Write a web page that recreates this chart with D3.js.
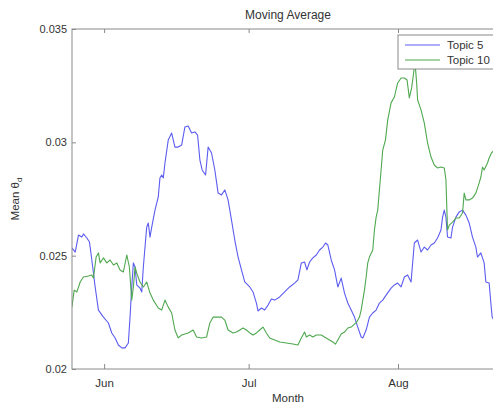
<!DOCTYPE html>
<html><head><meta charset="utf-8">
<script src="https://cdn.jsdelivr.net/npm/d3@7"></script>
<style>
html,body{margin:0;padding:0;background:#fff;}
svg{display:block;font-family:"Liberation Sans",Arial,Helvetica,sans-serif;}
</style></head>
<body><svg id="chart" width="493" height="405"></svg>
<script>
// Days counted from 1 June (fractional), value = mean theta_d
const topic5Days = [-6.69,-6.0,-5.32,-4.62,-4.29,-3.58,-3.04,-2.55,-1.86,-1.18,-0.14,0.89,1.59,2.28,2.96,3.66,4.35,5.03,5.38,5.73,6.07,6.42,6.77,7.45,7.81,8.14,8.49,8.84,9.17,9.52,9.88,10.56,11.24,11.59,11.95,12.28,12.63,13.31,14.02,14.70,15.38,16.09,16.77,17.45,18.16,18.84,19.40,19.88,20.35,21.06,21.59,22.30,22.98,23.66,24.37,25.05,25.73,26.44,27.12,27.81,28.51,29.19,30.23,30.91,31.61,31.95,32.65,33.33,34.02,34.72,35.40,36.44,37.47,38.51,39.54,40.23,40.93,41.61,42.09,42.65,43.33,44.04,44.72,45.40,45.96,46.44,47.14,47.83,48.51,49.21,49.90,50.58,51.28,51.97,52.65,53.35,53.69,54.39,55.07,55.76,56.46,57.14,57.83,58.53,59.56,60.25,60.93,61.64,62.32,63.00,63.71,64.04,64.39,65.07,65.78,66.46,67.14,67.85,68.53,69.21,69.92,70.25,70.60,70.95,71.28,71.99,72.32,73.02,73.71,74.39,75.09,75.78,76.46,77.16,77.49,78.20,78.88,79.23,79.92,80.27,80.54,81.99];
const topic5Values = [0.02534,0.02516,0.02591,0.02582,0.02596,0.02578,0.02560,0.02481,0.02362,0.02260,0.02229,0.02203,0.02159,0.02137,0.02106,0.02093,0.02093,0.02115,0.02229,0.02362,0.02468,0.02450,0.02371,0.02357,0.02340,0.02450,0.02538,0.02626,0.02644,0.02582,0.02626,0.02701,0.02759,0.02843,0.02856,0.02843,0.02909,0.03010,0.03041,0.02979,0.02979,0.02988,0.03068,0.03072,0.03041,0.03046,0.03032,0.02922,0.02878,0.02856,0.02979,0.02953,0.02878,0.02776,0.02768,0.02790,0.02746,0.02657,0.02569,0.02494,0.02437,0.02384,0.02362,0.02340,0.02291,0.02256,0.02269,0.02260,0.02282,0.02309,0.02304,0.02318,0.02340,0.02362,0.02379,0.02393,0.02468,0.02472,0.02437,0.02472,0.02490,0.02503,0.02525,0.02538,0.02556,0.02547,0.02481,0.02437,0.02362,0.02401,0.02335,0.02291,0.02260,0.02229,0.02185,0.02141,0.02137,0.02172,0.02229,0.02247,0.02260,0.02291,0.02304,0.02326,0.02357,0.02371,0.02379,0.02362,0.02406,0.02415,0.02384,0.02468,0.02556,0.02569,0.02516,0.02538,0.02525,0.02547,0.02556,0.02578,0.02613,0.02670,0.02701,0.02670,0.02582,0.02578,0.02626,0.02670,0.02693,0.02701,0.02679,0.02644,0.02582,0.02538,0.02494,0.02512,0.02468,0.02384,0.02379,0.02291,0.02229,0.02172];

const topic10Days = [-6.69,-6.21,-5.65,-4.97,-4.29,-3.25,-2.55,-2.22,-1.66,-1.18,-0.83,-0.14,0.56,1.24,1.93,2.63,3.31,4.00,4.70,5.24,5.73,6.07,6.42,6.77,7.45,8.14,8.84,9.52,10.21,11.24,11.95,12.63,13.31,14.02,14.70,15.38,16.09,17.45,18.49,19.19,20.23,21.26,21.95,22.63,23.33,24.37,25.05,25.73,26.77,27.47,28.16,28.84,29.54,30.23,30.91,31.61,32.30,32.98,33.68,34.37,35.40,36.44,37.83,39.19,40.23,40.93,41.61,41.97,42.65,43.33,44.04,45.07,45.75,46.79,47.47,48.03,48.51,49.21,49.90,50.58,51.28,51.97,52.44,53.00,53.35,53.69,54.04,54.39,54.72,55.07,55.76,56.11,56.46,56.79,57.14,57.49,57.83,58.39,58.86,59.56,60.25,60.93,61.64,62.32,62.88,63.35,63.83,64.24,64.53,64.87,65.07,65.78,66.46,67.14,67.85,68.53,69.21,69.92,70.60,70.95,71.28,71.64,72.32,73.02,73.71,74.39,74.74,75.09,75.78,76.46,77.16,77.85,78.20,78.54,78.88,79.57,79.92,80.39,81.99];
const topic10Values = [0.02273,0.02348,0.02340,0.02384,0.02406,0.02410,0.02415,0.02401,0.02494,0.02512,0.02468,0.02490,0.02468,0.02481,0.02459,0.02468,0.02437,0.02428,0.02503,0.02450,0.02304,0.02362,0.02450,0.02423,0.02384,0.02362,0.02384,0.02335,0.02304,0.02269,0.02260,0.02304,0.02273,0.02247,0.02172,0.02137,0.02150,0.02159,0.02172,0.02141,0.02137,0.02141,0.02203,0.02229,0.02229,0.02229,0.02216,0.02172,0.02159,0.02163,0.02172,0.02181,0.02172,0.02159,0.02150,0.02159,0.02172,0.02185,0.02159,0.02137,0.02128,0.02119,0.02115,0.02110,0.02106,0.02137,0.02163,0.02141,0.02150,0.02141,0.02150,0.02150,0.02141,0.02128,0.02119,0.02110,0.02128,0.02154,0.02163,0.02181,0.02185,0.02198,0.02207,0.02229,0.02260,0.02304,0.02348,0.02406,0.02468,0.02494,0.02525,0.02613,0.02670,0.02701,0.02790,0.02878,0.02966,0.03010,0.03098,0.03174,0.03200,0.03262,0.03284,0.03284,0.03275,0.03196,0.03240,0.03306,0.03354,0.03262,0.03187,0.03143,0.03085,0.02997,0.02935,0.02900,0.02887,0.02891,0.02887,0.02834,0.02613,0.02635,0.02648,0.02666,0.02666,0.02688,0.02776,0.02746,0.02746,0.02754,0.02776,0.02821,0.02847,0.02891,0.02878,0.02909,0.02931,0.02953,0.02988];

const seriesNames = ["Topic 5", "Topic 10"];
const seriesColors = ["#5c5cf0", "#4fa84f"];
const monthTicks = ["2012-06-01", "2012-07-01", "2012-08-01"];
const monthLabels = ["Jun", "Jul", "Aug"];
const yTicks = [0.02, 0.025, 0.03, 0.035];
const yTickLabels = ["0.02", "0.025", "0.03", "0.035"];

(function () {
const DAY = 86400000;
const base = Date.UTC(2012, 5, 1);
const toDate = d => new Date(base + d * DAY);

const pLeft = 72, pRight = 504, pTop = 29, pBottom = 369;
const svg = d3.select("#chart");

const x = d3.scaleUtc()
  .domain([new Date(Date.UTC(2012, 4, 25, 8)), new Date(Date.UTC(2012, 7, 23))])
  .range([pLeft, pRight]);
const y = d3.scaleLinear().domain([0.02, 0.035]).range([pBottom, pTop]);

svg.append("defs").append("clipPath").attr("id", "plotclip")
  .append("rect").attr("x", pLeft).attr("y", pTop).attr("width", pRight - pLeft).attr("height", pBottom - pTop);

const series = [
  topic5Days.map((d, i) => ({ t: toDate(d), v: topic5Values[i] })),
  topic10Days.map((d, i) => ({ t: toDate(d), v: topic10Values[i] }))
];

const line = d3.line().x(d => x(d.t)).y(d => y(d.v));
const g = svg.append("g").attr("clip-path", "url(#plotclip)");
series.forEach((s, i) => {
  g.append("path").datum(s).attr("d", line)
    .attr("fill", "none").attr("stroke", seriesColors[i])
    .attr("stroke-width", 1.1).attr("stroke-linejoin", "round");
});

const axisColor = "#8a8a8a";
svg.append("rect").attr("x", pLeft).attr("y", pTop).attr("width", pRight - pLeft).attr("height", pBottom - pTop)
  .attr("fill", "none").attr("stroke", axisColor).attr("stroke-width", 1);

const tickDates = monthTicks.map(s => new Date(s + "T00:00:00Z"));
const textColor = "#333";
const ff = "'Liberation Sans',Arial,sans-serif";

const xAxis = d3.axisBottom(x).tickValues(tickDates)
  .tickFormat((d, i) => monthLabels[i]).tickSize(-5).tickPadding(10);
const gx = svg.append("g").attr("transform", `translate(0,${pBottom})`).call(xAxis);
gx.select(".domain").remove();
gx.selectAll("line").attr("stroke", axisColor);
gx.selectAll("text").attr("fill", textColor).style("font-size", "11.5px").style("font-family", ff);

const xTop = d3.axisTop(x).tickValues(tickDates).tickFormat("").tickSize(-4);
const gxt = svg.append("g").attr("transform", `translate(0,${pTop})`).call(xTop);
gxt.select(".domain").remove();
gxt.selectAll("line").attr("stroke", axisColor);

const yAxis = d3.axisLeft(y).tickValues(yTicks)
  .tickFormat((d, i) => yTickLabels[i]).tickSize(-4).tickPadding(5);
const gy = svg.append("g").attr("transform", `translate(${pLeft},0)`).call(yAxis);
gy.select(".domain").remove();
gy.selectAll("line").attr("stroke", axisColor);
gy.selectAll("text").attr("fill", textColor).style("font-size", "11px").style("font-family", ff);

const cx = (pLeft + pRight) / 2;
svg.append("text").attr("x", cx).attr("y", 19).attr("text-anchor", "middle")
  .attr("fill", textColor).style("font-size", "12px").text("Moving Average");
svg.append("text").attr("x", cx).attr("y", 402).attr("text-anchor", "middle")
  .attr("fill", textColor).style("font-size", "11.5px").text("Month");
const yl = svg.append("text").attr("transform", `translate(19,${(pTop + pBottom) / 2}) rotate(-90)`)
  .attr("text-anchor", "middle").attr("fill", textColor).style("font-size", "11.5px");
yl.append("tspan").text("Mean θ");
yl.append("tspan").attr("dy", 3).style("font-size", "8px").text("d");

const lg = svg.append("g");
lg.append("rect").attr("x", 398).attr("y", 35).attr("width", 110).attr("height", 34)
  .attr("fill", "#fff").attr("stroke", axisColor).attr("stroke-width", 1);
seriesNames.forEach((name, i) => {
  const yy = 45 + i * 15;
  lg.append("line").attr("x1", 405).attr("x2", 440).attr("y1", yy).attr("y2", yy)
    .attr("stroke", seriesColors[i]).attr("stroke-width", 1.1);
  lg.append("text").attr("x", 447).attr("y", yy + 4).attr("fill", textColor)
    .style("font-size", "11.5px").text(name);
});
})();
</script></body></html>
